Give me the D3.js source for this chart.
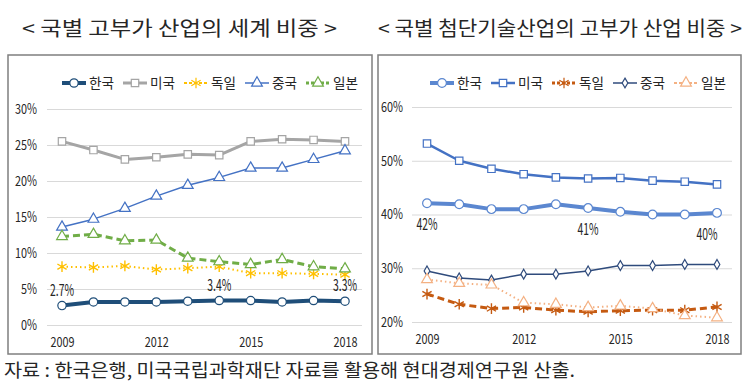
<!DOCTYPE html>
<html>
<head>
<meta charset="utf-8">
<script src="https://cdnjs.cloudflare.com/ajax/libs/d3/7.8.5/d3.min.js"></script>
<style>
  body { margin: 0; background: #fff; }
  text { font-family: "Noto Sans CJK KR", "Noto Sans", sans-serif; fill: #262626; }
</style>
</head>
<body>
<script>
// years on the x axis, shared by both charts
var years = [2009, 2010, 2011, 2012, 2013, 2014, 2015, 2016, 2017, 2018];
var yearTicks = [2009, 2012, 2015, 2018];
var countries = ["한국", "미국", "독일", "중국", "일본"];

// left: world share of high value-added industries (%)
var worldKorea   = [2.7, 3.2, 3.2, 3.2, 3.3, 3.4, 3.4, 3.2, 3.4, 3.3];
var worldUS      = [25.5, 24.3, 23.0, 23.3, 23.7, 23.6, 25.5, 25.8, 25.7, 25.5];
var worldGermany = [8.1, 8.0, 8.2, 7.7, 7.9, 8.1, 7.2, 7.2, 7.1, 7.0];
var worldChina   = [13.6, 14.7, 16.2, 17.9, 19.4, 20.5, 21.8, 21.8, 23.0, 24.2];
var worldJapan   = [12.3, 12.6, 11.7, 11.8, 9.3, 8.8, 8.4, 9.1, 8.1, 7.8];
var worldTicks   = [0, 5, 10, 15, 20, 25, 30];

// right: high-tech share within high value-added industries (%)
var techKorea   = [42.1, 41.9, 41.0, 41.0, 41.9, 41.2, 40.5, 40.0, 40.0, 40.3];
var techUS      = [53.2, 50.0, 48.5, 47.5, 46.9, 46.7, 46.8, 46.3, 46.1, 45.6];
var techGermany = [25.2, 23.3, 22.5, 22.7, 22.2, 21.9, 22.1, 22.2, 22.2, 22.8];
var techChina   = [29.5, 28.2, 27.8, 28.9, 28.9, 29.5, 30.5, 30.5, 30.7, 30.7];
var techJapan   = [27.9, 27.2, 26.9, 23.6, 23.3, 22.7, 23.0, 22.5, 21.2, 20.8];
var techTicks   = [20, 30, 40, 50, 60];

// point labels for Korea
var worldLabels = [{i: 0, text: "2.7%"}, {i: 5, text: "3.4%"}, {i: 9, text: "3.3%"}];
var techLabels  = [{i: 0, text: "42%"}, {i: 5, text: "41%"}, {i: 9, text: "40%", dx: -10}];

var W = 750, H = 386;
var svg = d3.select("body").append("svg")
  .attr("width", W)
  .attr("height", H);

// titles (reference font is condensed, so squeeze glyphs to the measured width)
svg.append("text").attr("x", 22).attr("y", 36)
  .attr("font-size", 20).attr("textLength", 315).attr("lengthAdjust", "spacingAndGlyphs")
  .text("< 국별  고부가  산업의  세계  비중 >");
svg.append("text").attr("x", 378).attr("y", 36)
  .attr("font-size", 20).attr("textLength", 364).attr("lengthAdjust", "spacingAndGlyphs")
  .text("< 국별 첨단기술산업의 고부가 산업 비중 >");

// source
svg.append("text").attr("x", 4).attr("y", 377)
  .attr("font-size", 18).attr("textLength", 571).attr("lengthAdjust", "spacingAndGlyphs")
  .text("자료 : 한국은행, 미국국립과학재단 자료를 활용해 현대경제연구원 산출.");

function drawPanel(cfg) {
  var g = svg.append("g");

  g.append("rect")
    .attr("x", cfg.frame[0]).attr("y", 55)
    .attr("width", cfg.frame[1] - cfg.frame[0]).attr("height", 299)
    .attr("fill", "#fff").attr("stroke", "#7f7f7f").attr("stroke-width", 1.5);

  var x = d3.scalePoint().domain(years).range(cfg.xRange);
  var y = d3.scaleLinear().domain(cfg.yDomain).range(cfg.yRange);

  var yAxis = g.append("g")
    .attr("transform", "translate(" + cfg.gridX[0] + ",0)")
    .call(d3.axisLeft(y).tickValues(cfg.ticks)
      .tickSize(-(cfg.gridX[1] - cfg.gridX[0]))
      .tickPadding(cfg.tickPad)
      .tickFormat(function(d){ return d + "%"; }));
  yAxis.select(".domain").remove();
  yAxis.selectAll(".tick line").attr("stroke", "#d9d9d9");
  yAxis.selectAll(".tick text").attr("font-size", 14).attr("fill", "#404040")
    .attr("font-family", "'Noto Sans CJK KR', sans-serif")
    .attr("textLength", function(d){ return d < 10 ? 16 : 22; })
    .attr("lengthAdjust", "spacingAndGlyphs");

  var xAxis = g.append("g")
    .attr("transform", "translate(0," + cfg.yRange[0] + ")")
    .call(d3.axisBottom(x).tickValues(yearTicks).tickSize(0).tickPadding(cfg.xPad));
  xAxis.select(".domain").remove();
  xAxis.selectAll(".tick text").attr("font-size", 14).attr("fill", "#404040")
    .attr("font-family", "'Noto Sans CJK KR', sans-serif")
    .attr("textLength", 24).attr("lengthAdjust", "spacingAndGlyphs");

  var line = d3.line()
    .x(function(d, i){ return x(years[i]); })
    .y(function(d){ return y(d); });

  // draw in order so that Korea ends on top
  var order = [1, 2, 3, 4, 0];
  order.forEach(function(k) {
    var s = cfg.series[k];
    g.append("path")
      .datum(s.values)
      .attr("fill", "none")
      .attr("stroke", s.color)
      .attr("stroke-width", s.width)
      .attr("stroke-dasharray", s.dash || null)
      .attr("stroke-linejoin", "round")
      .attr("d", line);
    g.selectAll(null)
      .data(s.values)
      .enter().append("path")
      .attr("transform", function(d, i){ return "translate(" + x(years[i]) + "," + y(d) + ")"; })
      .attr("d", markerPath(s.marker, s.msize))
      .attr("fill", s.marker == "asterisk" ? "none" : "#fff")
      .attr("stroke", s.mcolor || s.color)
      .attr("stroke-width", s.marker == "asterisk" ? 1.4 : 1.2);
  });

  // Korea value labels
  g.selectAll(null)
    .data(cfg.labels)
    .enter().append("text")
    .attr("x", function(d){ return x(years[d.i]) + (d.dx || 0); })
    .attr("y", function(d){ return y(cfg.series[0].values[d.i]) + cfg.labelDy; })
    .attr("text-anchor", "middle")
    .attr("font-size", 16)
    .attr("fill", "#262626")
    .attr("textLength", function(d){ return d.text.length == 4 ? 24 : 21; })
    .attr("lengthAdjust", "spacingAndGlyphs")
    .text(function(d){ return d.text; });

  // legend
  var lg = g.append("g").attr("transform", "translate(" + cfg.legendX + ",83)");
  cfg.series.forEach(function(s, k) {
    var item = lg.append("g").attr("transform", "translate(" + (k * 61) + ",0)");
    item.append("line")
      .attr("x1", 0).attr("x2", 24)
      .attr("stroke", s.color).attr("stroke-width", s.width)
      .attr("stroke-dasharray", s.dash ? "3,2" : null);
    item.append("path")
      .attr("transform", "translate(12,0)")
      .attr("d", markerPath(s.marker, s.msize))
      .attr("fill", s.marker == "asterisk" ? "none" : "#fff")
      .attr("stroke", s.mcolor || s.color)
      .attr("stroke-width", 1.2);
    item.append("text")
      .attr("x", 27).attr("y", 0).attr("dy", "0.35em")
      .attr("font-size", 14)
      .attr("textLength", 25).attr("lengthAdjust", "spacingAndGlyphs")
      .text(countries[k]);
  });
}

function markerPath(type, size) {
  var t = {
    circle: d3.symbolCircle,
    square: d3.symbolSquare,
    triangle: d3.symbolTriangle,
    diamond: d3.symbolDiamond,
    asterisk: d3.symbolAsterisk
  }[type];
  return d3.symbol().type(t).size(size)();
}

drawPanel({
  frame: [8, 372],
  gridX: [47, 362],
  xRange: [62, 345],
  yDomain: [0, 30],
  yRange: [325, 109],
  ticks: worldTicks,
  tickPad: 10,
  xPad: 12,
  legendX: 62,
  labelDy: -10,
  labels: worldLabels,
  series: [
    {values: worldKorea,   color: "#1f4e79", width: 4,   marker: "circle",   msize: 55},
    {values: worldUS,      color: "#a5a5a5", width: 3,   marker: "square",   msize: 55},
    {values: worldGermany, color: "#ffc000", width: 2,   marker: "asterisk", msize: 80, dash: "1.5,3"},
    {values: worldChina,   color: "#4472c4", width: 1.5, marker: "triangle", msize: 50},
    {values: worldJapan,   color: "#70ad47", width: 3,   marker: "triangle", msize: 50, dash: "7,4"}
  ]
});

drawPanel({
  frame: [378, 741],
  gridX: [412, 732],
  xRange: [427, 717],
  yDomain: [20, 60],
  yRange: [322, 107],
  ticks: techTicks,
  tickPad: 9,
  xPad: 12,
  legendX: 430,
  labelDy: 27,
  labels: techLabels,
  series: [
    {values: techKorea,   color: "#5b87d0", width: 4,   marker: "circle",   msize: 60},
    {values: techUS,      color: "#4472c4", width: 2.5, marker: "square",   msize: 55},
    {values: techGermany, color: "#c55a11", width: 3,   marker: "asterisk", msize: 80, dash: "7,4"},
    {values: techChina,   color: "#2f4b7c", width: 1.5, marker: "diamond",  msize: 28},
    {values: techJapan,   color: "#f4b183", width: 2,   marker: "triangle", msize: 50, dash: "1.5,3"}
  ]
});
</script>
</body>
</html>
